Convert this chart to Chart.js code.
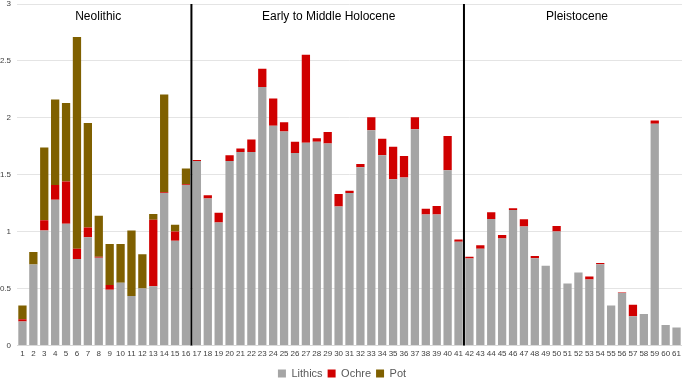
<!DOCTYPE html>
<html>
<head>
<meta charset="utf-8">
<script src="https://cdn.jsdelivr.net/npm/chart.js@4/dist/chart.umd.min.js"></script>
<style>
  html, body { margin: 0; padding: 0; background: #fff; }
  #wrap { width: 685px; height: 378px; position: relative; }
</style>
</head>
<body>
<div id="wrap"><canvas id="chart"></canvas></div>
<script>
const categories = ['1','2','3','4','5','6','7','8','9','10','11','12','13','14','15','16','17','18','19','20',
    '21','22','23','24','25','26','27','28','29','30','31','32','33','34','35','36','37','38','39','40',
    '41','42','43','44','45','46','47','48','49','50','51','52','53','54','55','56','57','58','59','60','61'];

const lithics = [0.21, 0.71, 1.01, 1.28, 1.07, 0.76, 0.95, 0.77, 0.49, 0.55, 0.435, 0.50, 0.52, 1.34, 0.92, 1.41,
    1.62, 1.29, 1.08, 1.62, 1.70, 1.70, 2.27, 1.93, 1.88, 1.69, 1.78, 1.79, 1.775, 1.22, 1.34, 1.565, 1.89, 1.67,
    1.46, 1.475, 1.90, 1.15, 1.15, 1.54, 0.91,
    0.763, 0.85, 1.11, 0.94, 1.19, 1.044, 0.766, 0.70, 1.0, 0.544, 0.64, 0.58, 0.713, 0.35, 0.46, 0.257, 0.275,
    1.947, 0.18, 0.158];

const ochre = [0.02, 0, 0.09, 0.13, 0.37, 0.09, 0.085, 0.01, 0.04, 0, 0, 0, 0.585, 0.005, 0.08, 0.005,
    0.01, 0.03, 0.085, 0.05, 0.03, 0.11, 0.16, 0.24, 0.08, 0.10, 0.775, 0.03, 0.10, 0.11, 0.02, 0.03, 0.115, 0.145,
    0.285, 0.19, 0.105, 0.05, 0.075, 0.30, 0.02,
    0.015, 0.03, 0.06, 0.03, 0.015, 0.064, 0.02, 0, 0.05, 0, 0, 0.025, 0.012, 0, 0.005, 0.10, 0,
    0.03, 0, 0];

const pot = [0.12, 0.11, 0.64, 0.75, 0.69, 1.86, 0.92, 0.36, 0.36, 0.34, 0.575, 0.30, 0.05, 0.86, 0.06, 0.14,
    0, 0, 0, 0, 0, 0, 0, 0, 0, 0, 0, 0, 0, 0, 0, 0, 0, 0, 0, 0, 0, 0, 0, 0, 0,
    0, 0, 0, 0, 0, 0, 0, 0, 0, 0, 0, 0, 0, 0, 0, 0, 0, 0, 0, 0];

// periods: label and index of first/last category
const periods = [
    { name: 'Neolithic', from: 0, to: 15 },
    { name: 'Early to Middle Holocene', from: 16, to: 40 },
    { name: 'Pleistocene', from: 41, to: 60 }
];

const FONT = "'Liberation Sans', Arial, sans-serif";

const periodPlugin = {
    id: 'periods',
    afterDatasetsDraw(chart) {
        const { ctx, chartArea, scales: { x } } = chart;
        ctx.save();
        // divider lines between periods
        ctx.strokeStyle = '#000';
        ctx.lineWidth = 2;
        periods.slice(1).forEach(p => {
            const px = (x.getPixelForValue(p.from - 1) + x.getPixelForValue(p.from)) / 2;
            ctx.beginPath();
            ctx.moveTo(px, chartArea.top);
            ctx.lineTo(px, chartArea.bottom);
            ctx.stroke();
        });
        // period names
        ctx.fillStyle = '#000';
        ctx.font = '12px ' + FONT;
        ctx.textAlign = 'center';
        ctx.textBaseline = 'middle';
        const offs = [-6, 1, 4];
        periods.forEach((p, i) => {
            const left = p.from === 0 ? chartArea.left : (x.getPixelForValue(p.from - 1) + x.getPixelForValue(p.from)) / 2;
            const right = p.to === categories.length - 1 ? chartArea.right : (x.getPixelForValue(p.to) + x.getPixelForValue(p.to + 1)) / 2;
            ctx.fillText(p.name, (left + right) / 2 + offs[i], chartArea.top + 13);
        });
        ctx.restore();
    }
};

const ctx = document.getElementById('chart').getContext('2d');
new Chart(ctx, {
    type: 'bar',
    data: {
        labels: categories,
        datasets: [
            { label: 'Lithics', data: lithics, backgroundColor: '#a5a5a5' },
            { label: 'Ochre', data: ochre, backgroundColor: '#d00000' },
            { label: 'Pot', data: pot, backgroundColor: '#7f6000' }
        ]
    },
    options: {
        responsive: true,
        maintainAspectRatio: false,
        animation: false,
        datasets: { bar: { categoryPercentage: 1, barPercentage: 0.76 } },
        layout: { padding: { top: 4, right: 1, left: 0, bottom: -11 } },
        plugins: {
            legend: {
                position: 'bottom',
                labels: {
                    boxWidth: 8,
                    boxHeight: 8,
                    padding: 5,
                    color: '#595959',
                    font: { family: FONT, size: 11 }
                }
            },
            tooltip: { enabled: false }
        },
        scales: {
            x: {
                stacked: true,
                grid: { display: false, drawTicks: false },
                border: { color: '#d9d9d9' },
                ticks: {
                    autoSkip: false,
                    maxRotation: 0,
                    padding: 4,
                    color: '#404040',
                    font: { family: FONT, size: 8 }
                }
            },
            y: {
                stacked: true,
                min: 0,
                max: 3,
                afterFit: (scale) => {
                    scale.width = 17;
                    scale.paddingTop = 0;
                    scale.paddingBottom = 0;
                },
                grid: { color: '#e4e4e4', drawTicks: false },
                border: { display: false },
                ticks: {
                    stepSize: 0.5,
                    padding: 6,
                    color: '#404040',
                    font: { family: FONT, size: 8 },
                    callback: (v) => String(v)
                }
            }
        }
    },
    plugins: [periodPlugin]
});
</script>
</body>
</html>
